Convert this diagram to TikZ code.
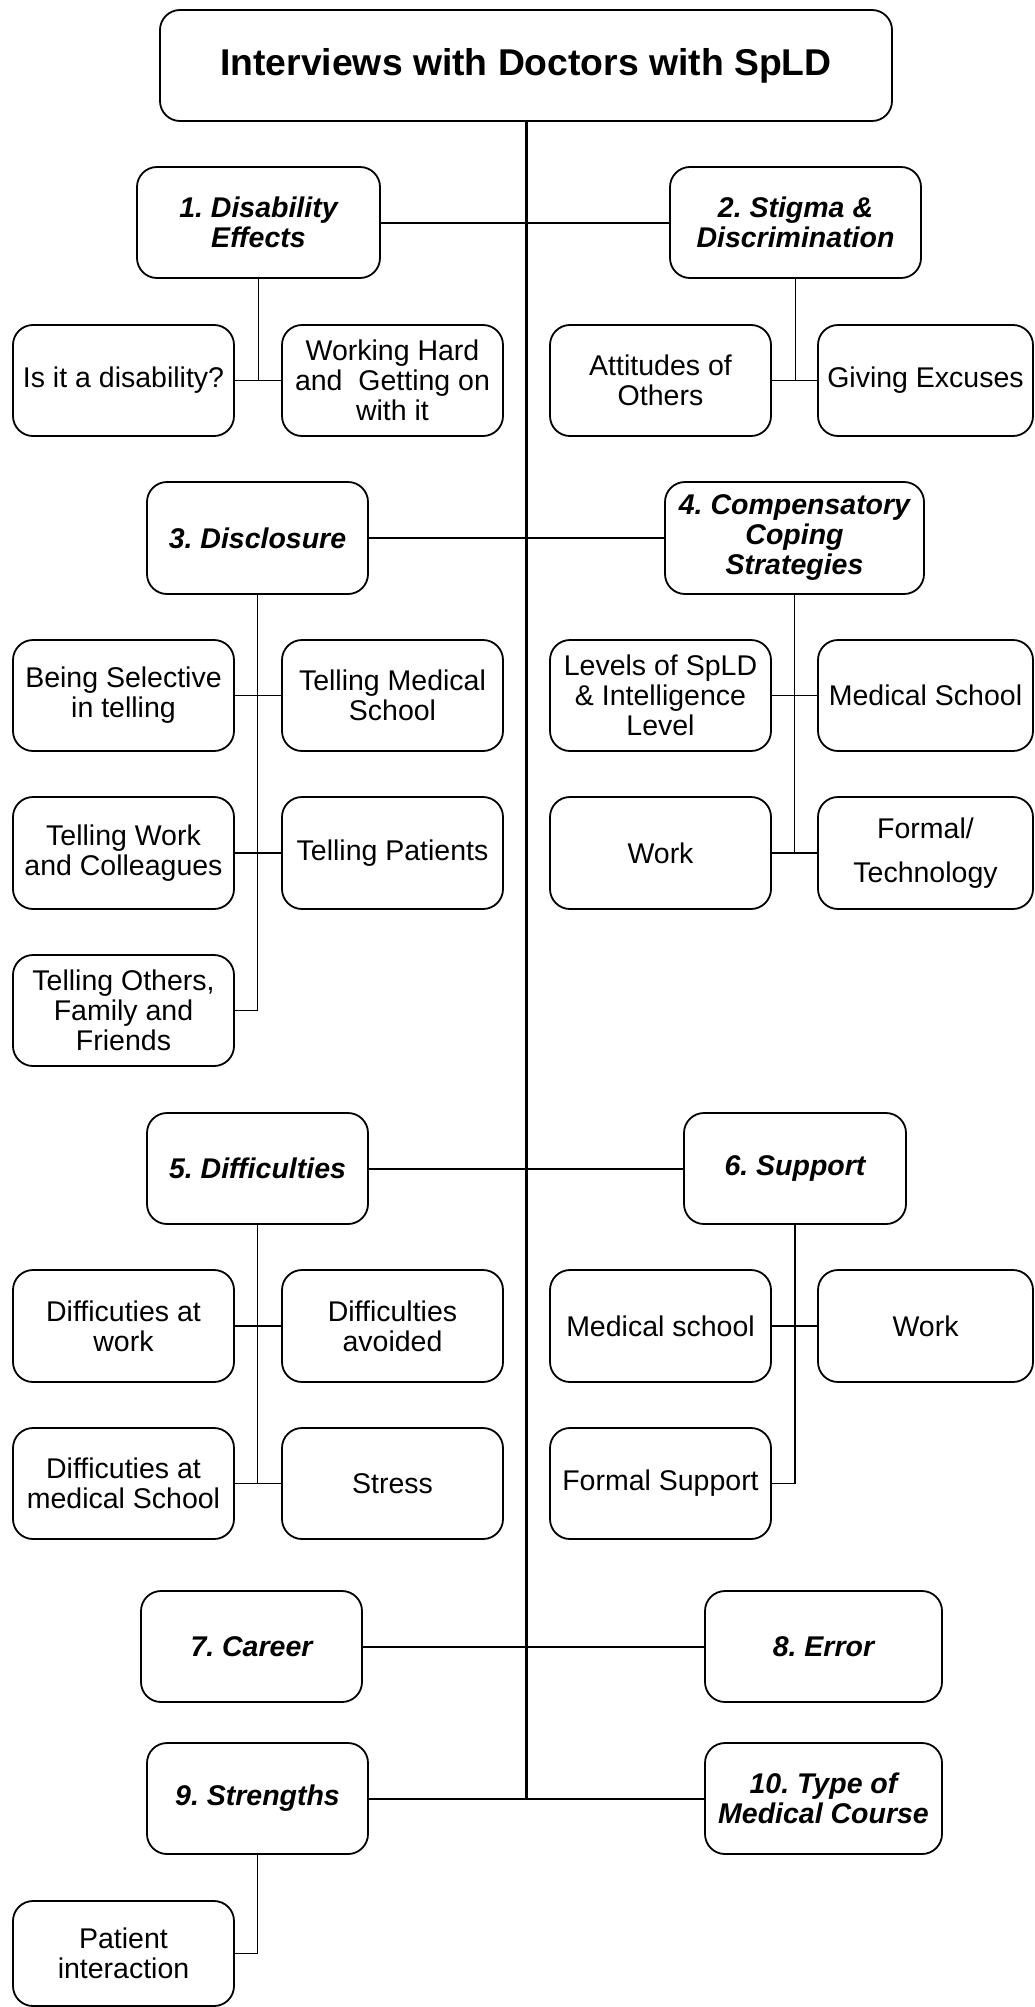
\documentclass[tikz,border=0pt]{standalone}
\usepackage{fontspec}
\setmainfont{Liberation Sans}
\frenchspacing
\begin{document}
\begin{tikzpicture}[x=1pt,y=-1pt,
  base/.style={draw, line width=1.8pt, rounded corners=20pt, fill=white,
    align=center, inner sep=0pt, minimum width=221pt, minimum height=111pt,
    font=\fontsize{28.5}{30}\selectfont},
  sub/.style={base},
  cat/.style={base, font=\fontsize{28.5}{30}\selectfont\bfseries\itshape},
  titlebox/.style={base, font=\fontsize{37.3}{40}\selectfont\bfseries},
  trunk/.style={line width=3pt},
  mainlink/.style={line width=2pt},
  sublink/.style={line width=1.8pt}]
\useasboundingbox (0,0) rectangle (1035,2007);

% title
\node[titlebox, minimum width=732pt] (title) at (526,65.5) {Interviews with Doctors with SpLD};

% categories
\node[cat, minimum width=243pt] (c1) at (258.5,222.5) {1. Disability\\Effects};
\node[cat, minimum width=251pt] (c2) at (795.5,222.5) {2. Stigma \&\\Discrimination};
\node[cat, minimum height=112pt] (c3) at (257.5,538) {3. Disclosure};
\node[cat, minimum width=259pt, minimum height=112pt] (c4) at (794.5,538) {4. Compensatory\\Coping\\Strategies};
\node[cat] (c5) at (257.5,1168.5) {5. Difficulties};
\node[cat, minimum width=222pt] (c6) at (795,1168.5) {6. Support};
\node[cat] (c7) at (251.5,1646.5) {7. Career};
\node[cat, minimum width=237pt] (c8) at (823.5,1646.5) {8. Error};
\node[cat] (c9) at (257.5,1798.5) {9. Strengths};
\node[cat, minimum width=237pt] (c10) at (823.5,1798.5) {10. Type of\\Medical Course};

% sub-themes
\node[sub] (a1) at (123.5,380.5) {Is it a disability?};
\node[sub] (a2) at (392.5,380.5) {Working Hard\\and\ \ Getting on\\with it};
\node[sub] (b1) at (660.5,380.5) {Attitudes of\\Others};
\node[sub, minimum width=215pt] (b2) at (925.5,380.5) {Giving Excuses};

\node[sub] (d1) at (123.5,695.5) {Being Selective\\in telling};
\node[sub] (d2) at (392.5,695.5) {Telling Medical\\School};
\node[sub, minimum height=112pt] (d3) at (123.5,853) {Telling Work\\and Colleagues};
\node[sub, minimum height=112pt] (d4) at (392.5,853) {Telling Patients};
\node[sub] (d5) at (123.5,1010.5) {Telling Others,\\Family and\\Friends};

\node[sub] (e1) at (660.5,695.5) {Levels of SpLD\\\& Intelligence\\Level};
\node[sub, minimum width=215pt] (e2) at (925.5,695.5) {Medical School};
\node[sub, minimum height=112pt] (e3) at (660.5,853) {Work};
\node[sub, minimum width=215pt, minimum height=112pt] (e4) at (925.5,853) {Formal/\\[14pt]Technology};

\node[sub, minimum height=112pt] (f1) at (123.5,1326) {Difficuties at\\work};
\node[sub, minimum height=112pt] (f2) at (392.5,1326) {Difficulties\\avoided};
\node[sub] (f3) at (123.5,1483.5) {Difficuties at\\medical School};
\node[sub] (f4) at (392.5,1483.5) {Stress};

\node[sub, minimum height=112pt] (g1) at (660.5,1326) {Medical school};
\node[sub, minimum width=215pt, minimum height=112pt] (g2) at (925.5,1326) {Work};
\node[sub] (g3) at (660.5,1483.5) {Formal Support};

\node[sub, minimum height=105pt] (p1) at (123.5,1953.5) {Patient\\interaction};

% trunk
\coordinate (trunkend) at (526,1798.5);
\draw[trunk] (title.south) -- (trunkend);

% main links
\draw[mainlink] (c1.east) -- (c2.west);
\draw[mainlink] (c3.east) -- (c4.west);
\draw[mainlink] (c5.east) -- (c6.west);
\draw[mainlink] (c7.east) -- (c8.west);
\draw[mainlink] (c9.east) -- (c10.west);

% sub links
\draw[sublink] (c1.south) -- (c1.south |- a1.east);
\draw[sublink] (a1.east) -- (a2.west);
\draw[sublink] (c2.south) -- (c2.south |- b1.east);
\draw[sublink] (b1.east) -- (b2.west);

\draw[sublink] (c3.south) -- (c3.south |- d5.east) -- (d5.east);
\draw[sublink] (d1.east) -- (d2.west);
\draw[sublink] (d3.east) -- (d4.west);

\draw[sublink] (c4.south) -- (c4.south |- e3.east);
\draw[sublink] (e1.east) -- (e2.west);
\draw[sublink] (e3.east) -- (e4.west);

\draw[sublink] (c5.south) -- (c5.south |- f3.east);
\draw[sublink] (f1.east) -- (f2.west);
\draw[sublink] (f3.east) -- (f4.west);

\draw[sublink] (c6.south) -- (c6.south |- g3.east) -- (g3.east);
\draw[sublink] (g1.east) -- (g2.west);

\draw[sublink] (c9.south) -- (c9.south |- p1.east) -- (p1.east);
\end{tikzpicture}
\end{document}
